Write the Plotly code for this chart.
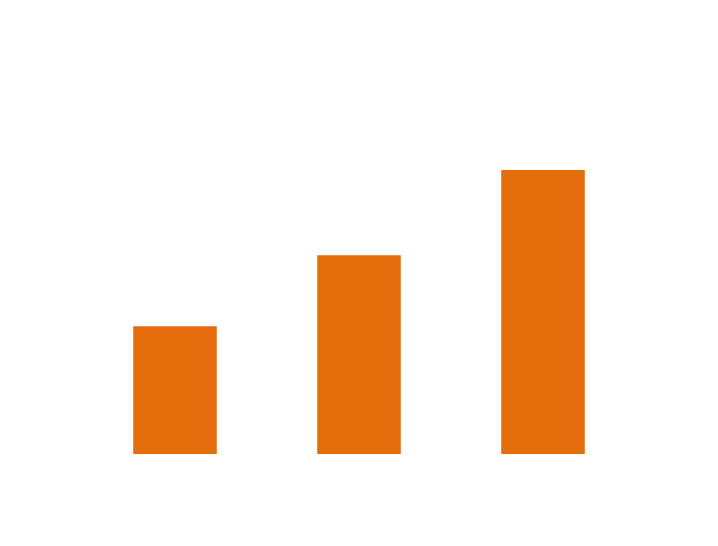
import plotly.graph_objects as go

categories = ["A", "B", "C"]
values = [9, 14, 20]

fig = go.Figure(go.Bar(x=categories, y=values, marker=dict(color="#E46C0A", line=dict(width=0)), width=0.454))
fig.update_layout(
    width=718, height=546,
    margin=dict(l=75, r=91, t=20, b=100),
    plot_bgcolor="white", paper_bgcolor="white",
    showlegend=False,
)
fig.update_xaxes(visible=False, range=[-0.5, 2.5])
fig.update_yaxes(visible=False, range=[0, 30])
fig.write_html("out.html")
